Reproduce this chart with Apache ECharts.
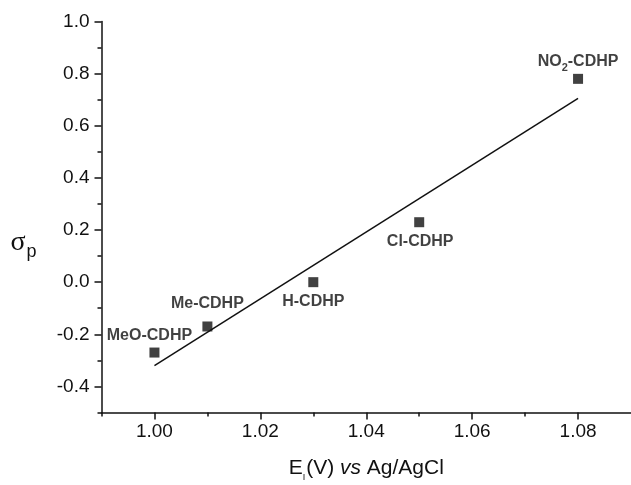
<!DOCTYPE html>
<html>
<head>
<meta charset="utf-8">
<script src="https://cdn.jsdelivr.net/npm/echarts@6/dist/echarts.min.js"></script>
<style>html,body{margin:0;padding:0;background:#fff}#c{width:631px;height:485px}</style>
</head>
<body>
<div id="c"></div>
<script>
const categories = ['MeO-CDHP', 'Me-CDHP', 'H-CDHP', 'Cl-CDHP', 'NO2-CDHP'];
const eiValues = [1.00, 1.01, 1.03, 1.05, 1.08];
const sigmaValues = [-0.27, -0.17, 0.00, 0.23, 0.78];
const fitX = [1.00, 1.08];
const fitY = [-0.32, 0.705];
const xMajorTicks = [1.00, 1.02, 1.04, 1.06, 1.08];
const xMinorTicks = [0.99, 1.01, 1.03, 1.05, 1.07];
const yMajorTicks = [-0.4, -0.2, 0.0, 0.2, 0.4, 0.6, 0.8, 1.0];
const yMinorTicks = [-0.5, -0.3, -0.1, 0.1, 0.3, 0.5, 0.7, 0.9];

const labelOffsets = [[-5, -16], [0, -22], [0, 20], [1, 20], [0, -17]];
const FONT = 'Liberation Sans, Arial, sans-serif';
const INK = '#111';

const chart = echarts.init(document.getElementById('c'), null, {renderer: 'canvas'});

const baseAxis = {
  type: 'value',
  splitLine: {show: false},
  axisLine: {show: true, onZero: false, lineStyle: {color: INK, width: 1.5}},
};

const option = {
  backgroundColor: '#fff',
  animation: false,
  grid: {left: 101.5, right: 0, top: 21.5, bottom: 72.5, containLabel: false, outerBoundsMode: 'none'},
  xAxis: [
    Object.assign({}, baseAxis, {
      min: 0.99, max: 1.09, position: 'bottom',
      axisTick: {show: true, inside: false, length: 7, customValues: xMajorTicks, lineStyle: {color: INK, width: 1.5}},
      axisLabel: {show: true, customValues: xMajorTicks, margin: 10, color: '#111', fontFamily: FONT, fontSize: 19,
        formatter: v => v.toFixed(2)},
      name: '{t|E}{s|I}{t|(V) }{i|vs}{t| Ag/AgCl}',
      nameLocation: 'middle', nameGap: 45,
      nameTextStyle: {
        rich: {
          t: {fontFamily: FONT, fontSize: 21, color: '#111', verticalAlign: 'top', lineHeight: 22},
          i: {fontFamily: FONT, fontSize: 21, fontStyle: 'italic', color: '#111', verticalAlign: 'top', lineHeight: 22},
          s: {fontFamily: FONT, fontSize: 9, color: '#111', verticalAlign: 'top', lineHeight: 9, padding: [16, 1, 0, 0]}
        }
      }
    }),
    Object.assign({}, baseAxis, {
      min: 0.99, max: 1.09, position: 'bottom',
      axisLine: {show: false, onZero: false},
      axisTick: {show: true, inside: false, length: 4, customValues: xMinorTicks, lineStyle: {color: INK, width: 1.5}},
      axisLabel: {show: false}
    })
  ],
  yAxis: [
    Object.assign({}, baseAxis, {
      min: -0.5, max: 1.0, position: 'left',
      axisTick: {show: true, inside: false, length: 7, customValues: yMajorTicks, lineStyle: {color: INK, width: 1.5}},
      axisLabel: {show: true, customValues: yMajorTicks, margin: 12, color: '#111', fontFamily: FONT, fontSize: 19,
        formatter: v => v.toFixed(1)},
      name: '{s|σ}{p|p}',
      nameLocation: 'middle', nameGap: 65, nameRotate: 0,
      nameTextStyle: {
        padding: [52, 0, 0, 0],
        rich: {
          s: {fontFamily: 'Liberation Serif, serif', fontSize: 28, color: '#111', verticalAlign: 'top', lineHeight: 28},
          p: {fontFamily: FONT, fontSize: 18, color: '#111', verticalAlign: 'top', lineHeight: 18, padding: [14, 0, 0, 1]}
        }
      }
    }),
    Object.assign({}, baseAxis, {
      min: -0.5, max: 1.0, position: 'left',
      axisLine: {show: false, onZero: false},
      axisTick: {show: true, inside: false, length: 4, customValues: yMinorTicks, lineStyle: {color: INK, width: 1.5}},
      axisLabel: {show: false}
    })
  ],
  series: [
    {
      type: 'line',
      xAxisIndex: 0, yAxisIndex: 0,
      data: fitX.map((x, i) => [x, fitY[i]]),
      showSymbol: false, symbol: 'none',
      lineStyle: {color: INK, width: 1.5},
      silent: true, z: 2
    },
    {
      type: 'scatter',
      xAxisIndex: 0, yAxisIndex: 0,
      symbol: 'rect', symbolSize: 10,
      itemStyle: {color: INK},
      z: 3,
      data: categories.map((name, i) => ({
        name: name,
        value: [eiValues[i], sigmaValues[i]],
        label: {offset: labelOffsets[i]}
      })),
      label: {
        show: true, position: 'inside', align: 'center', verticalAlign: 'middle',
        formatter: p => p.name === 'NO2-CDHP' ? '{b|NO}{sub|2}{b|-CDHP}' : '{b|' + p.name + '}',
        rich: {
          b: {fontFamily: FONT, fontSize: 16, fontWeight: 'bold', color: '#111', verticalAlign: 'top', lineHeight: 17},
          sub: {fontFamily: FONT, fontSize: 11, fontWeight: 'bold', color: '#111', verticalAlign: 'top', lineHeight: 11, padding: [9, 0, 0, 0]}
        }
      }
    }
  ]
};
chart.setOption(option);
</script>
</body>
</html>
